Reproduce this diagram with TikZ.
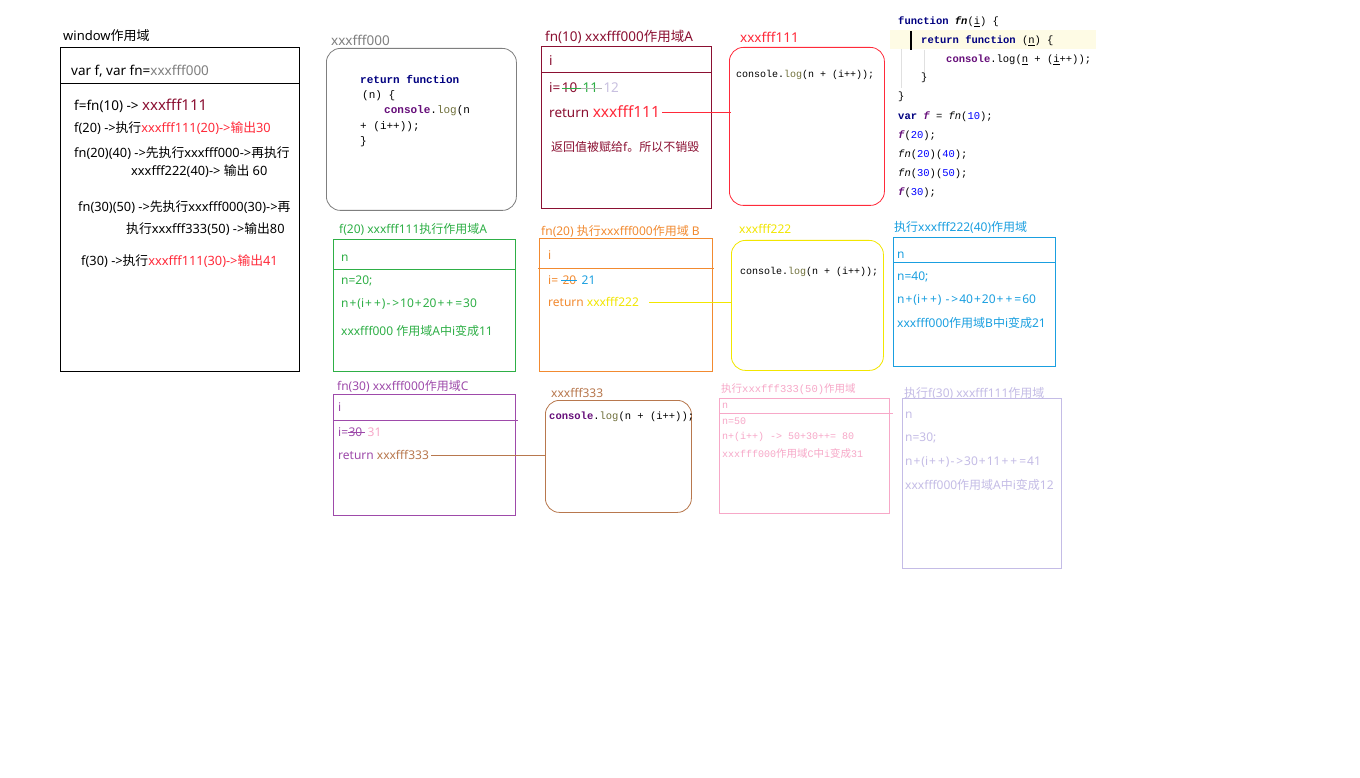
\documentclass[tikz,border=0pt]{standalone}
\usepackage{fontspec}
\setmainfont{Noto Sans}
\newfontfamily\zh{Noto Sans CJK SC}
\newcommand{\Z}[1]{{\zh #1}}
\newcommand{\op}[1]{{\kern1pt#1\kern1pt}}
\newfontfamily\codef{Liberation Mono}
\definecolor{dred}{HTML}{8B1032}
\definecolor{bred}{HTML}{FF2A3A}
\definecolor{gry}{HTML}{7F7F7F}
\definecolor{grn}{HTML}{2EAF46}
\definecolor{org}{HTML}{F28A30}
\definecolor{ylw}{HTML}{F2E600}
\definecolor{blu}{HTML}{1A9FE0}
\definecolor{pur}{HTML}{9E4AAA}
\definecolor{pnk}{HTML}{F7A8C8}
\definecolor{brn}{HTML}{B8784E}
\definecolor{lav}{HTML}{C4BCE6}
\definecolor{navy}{HTML}{000080}
\definecolor{kpur}{HTML}{660E7A}
\definecolor{olv}{HTML}{6F6F3A}
\definecolor{num}{HTML}{0000FF}
\definecolor{hl}{HTML}{FEFBE5}
\definecolor{guide}{HTML}{E0E0E0}
\definecolor{lil}{HTML}{C8C0E0}
\begin{document}
\begin{tikzpicture}[x=1pt,y=-1pt,
  txt/.style={anchor=west,inner sep=0pt,font=\fontsize{12}{14}\selectfont},
  big/.style={anchor=west,inner sep=0pt,font=\fontsize{13.5}{15}\selectfont},
  sm/.style={anchor=west,inner sep=0pt,font=\fontsize{12.8}{14}\selectfont},
  code/.style={anchor=west,inner sep=0pt,font=\codef\fontsize{10}{12}\selectfont},
  rcode/.style={anchor=west,inner sep=0pt,font=\codef\fontsize{10.5}{12}\selectfont},
  pk/.style={anchor=west,inner sep=0pt,font=\fontsize{10.5}{12}\selectfont},
  sq/.style={draw,anchor=north west,inner sep=0pt,line width=0.8pt},
  rd/.style={sq,rounded corners=14pt},
  link/.style={line width=0.8pt}
]
\useasboundingbox[fill=white] (0,0) rectangle (1360,778);

% ---------- window scope ----------
\node[txt,font=\fontsize{13}{15}\selectfont] (wl) at (63,36) {window\Z{作用域}};
\node[sq,minimum width=239,minimum height=324] (win) at (60,47) {};
\draw[line width=0.8pt] (win.west |- 0,83) -- (win.east |- 0,83);
\node[big] (wv) at (71,71) {var f, var fn=\textcolor{gry}{xxxfff000}};
\node[big] (w1) at (74,106) {f=fn(10) -> \textcolor{dred}{\fontsize{15}{16}\selectfont xxxfff111}};
\node[sm] (w2) at (74,128) {f(20) ->\Z{执行}\textcolor{bred}{xxxfff111(20)->\Z{输出}30}};
\node[sm] (w3) at (74,153) {fn(20)(40) ->\Z{先执行}xxxfff000->\Z{再执行}};
\node[sm] (w4) at (131,171) {xxxfff222(40)-> \Z{输出} 60};
\node[sm] (w5) at (78,207) {fn(30)(50) ->\Z{先执行}xxxfff000(30)->\Z{再}};
\node[sm] (w6) at (126,229) {\Z{执行}xxxfff333(50) ->\Z{输出}80};
\node[sm] (w7) at (81,261) {f(30) ->\Z{执行}\textcolor{bred}{xxxfff111(30)->\Z{输出}41}};

% ---------- xxxfff000 ----------
\node[big,gry] (l0) at (331,40) {xxxfff000};
\node[rd,gry,minimum width=190,minimum height=162] (b0) at (326,48) {};
\node[code,font=\codef\fontsize{11}{12}\selectfont] (c0a) at (360,79) {\textbf{\textcolor{navy}{return function}}};
\node[code,font=\codef\fontsize{11}{12}\selectfont] (c0b) at (362,96) {(n) \{};
\node[code,font=\codef\fontsize{11}{12}\selectfont] (c0c) at (384,111) {\textbf{\textcolor{kpur}{console}}.\textcolor{olv}{log}(n};
\node[code,font=\codef\fontsize{11}{12}\selectfont] (c0d) at (360,127) {+ (i++));};
\node[code,font=\codef\fontsize{11}{12}\selectfont] (c0e) at (360,142) {\}};

% ---------- fn(10) scope A ----------
\node[big,dred] (la) at (545,37) {fn(10) xxxfff000\Z{作用域}A};
\node[sq,dred,minimum width=170,minimum height=162] (ba) at (541,46) {};
\draw[dred,line width=0.8pt] (ba.west |- 0,72) -- (ba.east |- 0,72);
\node[big,dred] (ai) at (549,61) {i};
\node[big,dred] (aeq) at (549,88) {i=};
\node[big,dred] (a10) at ([xshift=1pt]aeq.east) {10};
\draw[grn,line width=0.8pt] (a10.west) -- ([xshift=4pt]a10.east);
\node[big,grn] (a11) at ([xshift=5pt]a10.east) {11};
\draw[gry!60,line width=0.8pt] ([xshift=-1pt]a11.west) -- ([xshift=4pt]a11.east);
\node[big,lil] (a12) at ([xshift=5pt]a11.east) {12};
\node[big,dred] (aret) at (549,112) {return \textcolor{bred}{\fontsize{15.5}{17}\selectfont xxxfff111}};
\node[txt,dred] (anote) at (551,147) {\Z{返回值被赋给}f\Z{。所以不销毁}};

% ---------- xxxfff111 ----------
\node[big,bred] (l1) at (740,37) {xxxfff111};
\node[rd,bred,minimum width=155,minimum height=158] (b1) at (729,47) {};
\node[code] (c1) at (736,75) {console.\textcolor{olv}{log}(n + (i++));};

% ---------- source code ----------
\fill[hl] (890,30) rectangle (1096,49);
\draw[line width=2pt] (911,31) -- (911,50);
\draw[guide] (901,49) -- (901,88);
\draw[guide] (924,50) -- (924,75);
\node[rcode] (s1) at (898,22) {\textbf{\textcolor{navy}{function}} \textbf{\textit{fn}}(\underline{i}) \{};
\node[rcode] (s2) at (921,41) {\textbf{\textcolor{navy}{return function}} (\underline{n}) \{};
\node[rcode] (s3) at (946,60) {\textbf{\textcolor{kpur}{console}}.log(\underline{n} + (\underline{i}++));};
\node[rcode] (s4) at (921,78) {\}};
\node[rcode] (s5) at (898,97) {\}};
\node[rcode] (s6) at (898,117) {\textbf{\textcolor{navy}{var}} \textbf{\textit{\textcolor{kpur}{f}}} = \textit{fn}(\textcolor{num}{10});};
\node[rcode] (s7) at (898,136) {\textbf{\textit{\textcolor{kpur}{f}}}(\textcolor{num}{20});};
\node[rcode] (s8) at (898,155) {\textit{fn}(\textcolor{num}{20})(\textcolor{num}{40});};
\node[rcode] (s9) at (898,174) {\textit{fn}(\textcolor{num}{30})(\textcolor{num}{50});};
\node[rcode] (s10) at (898,193) {\textbf{\textit{\textcolor{kpur}{f}}}(\textcolor{num}{30});};

% ---------- f(20) green ----------
\node[txt,grn] (lg) at (339,229) {f(20) xxxfff111\Z{执行作用域}A};
\node[sq,grn,minimum width=182,minimum height=132] (bg) at (333,239) {};
\draw[grn,line width=0.8pt] (bg.west |- 0,269) -- (bg.east |- 0,269);
\node[txt,grn] (g1) at (341,258) {n};
\node[txt,grn] (g2) at (341,281) {n=20;};
\node[txt,grn] (g3) at (341,304) {n\op{+}(i\op{+}\op{+})\op{-}\op{>}10\op{+}20\op{+}\op{+}\op{=}30};
\node[txt,grn] (g4) at (341,331) {xxxfff000 \Z{作用域}A\Z{中}i\Z{变成}11};

% ---------- fn(20) orange ----------
\node[txt,org] (lo) at (541,231) {fn(20) \Z{执行}xxxfff000\Z{作用域} B};
\node[sq,org,minimum width=173,minimum height=133] (bo) at (539,238) {};
\draw[org,line width=0.8pt] ([xshift=-1pt]bo.west |- 0,268) -- ([xshift=1pt]bo.east |- 0,268);
\node[txt,org] (o1) at (548,255) {i};
\node[txt,org] (oeq) at (548,280) {i=};
\node[txt,org] (o20) at ([xshift=4pt]oeq.east) {20};
\draw[blu,line width=0.8pt] ([xshift=-1pt]o20.west) -- ([xshift=1pt]o20.east);
\node[txt,blu] (o21) at ([xshift=5pt]o20.east) {21};
\node[txt,org] (oret) at (548,302) {return \textcolor{ylw}{xxxfff222}};

% ---------- xxxfff222 ----------
\node[txt,ylw] (l2) at (739,229) {xxxfff222};
\node[rd,ylw,minimum width=152,minimum height=130] (b2) at (731,240) {};
\node[code] (c2) at (740,272) {console.\textcolor{olv}{log}(n + (i++));};

% ---------- blue scope ----------
\node[txt,blu] (lb) at (894,227) {\Z{执行}xxxfff222(40)\Z{作用域}};
\node[sq,blu,minimum width=162,minimum height=129] (bb) at (893,237) {};
\draw[blu,line width=0.8pt] (bb.west |- 0,262) -- (bb.east |- 0,262);
\node[txt,blu] (bl1) at (897,255) {n};
\node[txt,blu] (bl2) at (897,277) {n=40;};
\node[txt,blu] (bl3) at (897,300) {n\op{+}(i\op{+}\op{+}) \op{-}\op{>}40\op{+}20\op{+}\op{+}\op{=}60};
\node[txt,blu] (bl4) at (897,323) {xxxfff000\Z{作用域}B\Z{中}i\Z{变成}21};

% ---------- fn(30) purple ----------
\node[txt,pur] (lp) at (337,386) {fn(30) xxxfff000\Z{作用域}C};
\node[sq,pur,minimum width=182,minimum height=121] (bp) at (333,394) {};
\draw[pur,line width=0.8pt] (bp.west |- 0,420) -- ([xshift=2pt]bp.east |- 0,420);
\node[txt,pur] (p1) at (338,407) {i};
\node[txt,pur] (peq) at (338,432) {i=};
\node[txt,pur] (p30) at (peq.east) {30};
\draw[pur,line width=0.8pt] (p30.west) -- ([xshift=3pt]p30.east);
\node[txt,pnk] (p31) at ([xshift=5pt]p30.east) {31};
\node[txt,pur] (pret) at (338,455) {return \textcolor{brn}{xxxfff333}};

% ---------- xxxfff333 ----------
\node[txt,brn] (l3) at (551,393) {xxxfff333};
\node[rd,brn,minimum width=146,minimum height=112] (b3) at (545,400) {};
\node[code,font=\codef\fontsize{10.5}{12}\selectfont] (c3) at (549,417) {\textbf{\textcolor{kpur}{console}}.\textcolor{olv}{log}(n + (i++));};

% ---------- pink scope ----------
\node[pk,pnk] (lk) at (721,389) {\Z{执行}{\codef xxxfff333(50)}\Z{作用域}};
\node[sq,pnk,minimum width=170,minimum height=115] (bk) at (719,398) {};
\draw[pnk,line width=0.8pt] (bk.west |- 0,413) -- ([xshift=3pt]bk.east |- 0,413);
\node[pk,pnk,font=\codef\fontsize{10}{11}\selectfont] (k1) at (722,406) {n};
\node[pk,pnk,font=\codef\fontsize{10}{11}\selectfont] (k2) at (722,421) {n=50};
\node[pk,pnk,font=\codef\fontsize{10}{11}\selectfont] (k3) at (722,437) {n+(i++) -> 50+30++= 80};
\node[pk,pnk,font=\codef\fontsize{10}{11}\selectfont] (k4) at (722,453) {xxxfff000{\zh\fontsize{10.5}{11}\selectfont 作用域}C{\zh\fontsize{10.5}{11}\selectfont 中}i{\zh\fontsize{10.5}{11}\selectfont 变成}31};

% ---------- lavender scope ----------
\node[txt,lav] (lv) at (904,393) {\Z{执行}f(30) xxxfff111\Z{作用域}};
\node[sq,lav,minimum width=159,minimum height=170] (bv) at (902,398) {};
\node[txt,lav] (v1) at (905,415) {n};
\node[txt,lav] (v2) at (905,438) {n=30;};
\node[txt,lav] (v3) at (905,462) {n\op{+}(i\op{+}\op{+})\op{-}\op{>}30\op{+}11\op{+}\op{+}\op{=}41};
\node[txt,lav] (v4) at (905,485) {xxxfff000\Z{作用域}A\Z{中}i\Z{变成}12};

% ---------- connectors ----------
\draw[bred,link] ([xshift=2pt]aret.east) -- ([xshift=2pt]aret.east -| b1.west);
\draw[ylw,link] ([xshift=10pt]oret.east) -- (oret.east -| b2.west);
\draw[brn,link] ([xshift=2pt]pret.east) -- (pret.east -| b3.west);
\end{tikzpicture}
\end{document}
